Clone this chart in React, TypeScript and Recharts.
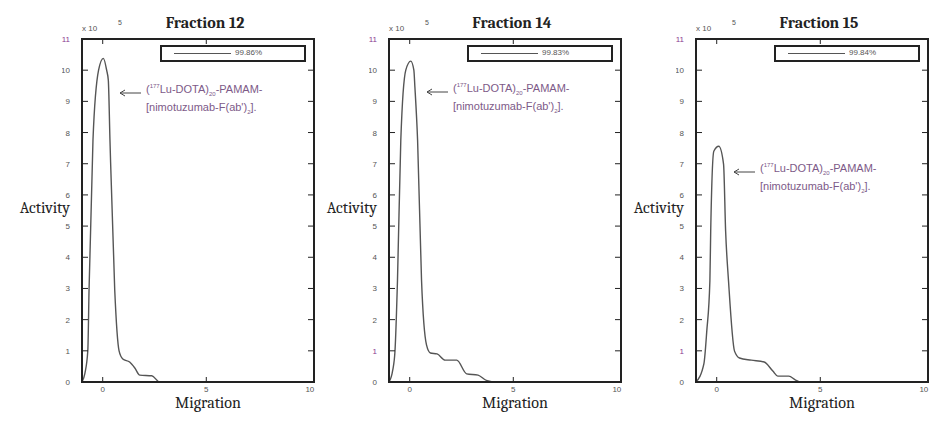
import React from 'react';
import { LineChart, Line, XAxis, YAxis, Legend, ReferenceArea, ReferenceLine } from 'recharts';

// values (Activity in units of 10^5)
const fractionTitles = ['Fraction 12', 'Fraction 14', 'Fraction 15'];
const purityLabels = ['99.86%', '99.83%', '99.84%'];
const migrationTicks = [0, 5, 10];
const activityTicks = [0, 1, 2, 3, 4, 5, 6, 7, 8, 9, 10, 11];

const f12Migration = [-1, -0.86, -0.72, -0.66, -0.47, -0.2, 0.03, 0.19, 0.27, 0.35, 0.58, 0.79, 0.97, 1.3, 1.55, 1.79, 2.37, 2.75, 10.2];
const f12Activity = [0, 0.28, 1.0, 2.95, 7.76, 10.0, 10.38, 10.0, 9.68, 7.76, 2.95, 1.0, 0.74, 0.64, 0.45, 0.22, 0.2, 0, 0];

const f14Migration = [-1, -0.82, -0.71, -0.59, -0.43, -0.19, 0.05, 0.2, 0.25, 0.38, 0.57, 0.81, 1.0, 1.32, 1.71, 2.27, 2.75, 3.3, 3.7, 4.2, 10.2];
const f14Activity = [0, 0.38, 1.0, 3.27, 7.76, 10.0, 10.29, 10.0, 9.46, 7.76, 3.27, 1.19, 0.93, 0.9, 0.7, 0.7, 0.26, 0.22, 0.05, 0, 0];

const f15Migration = [-1, -0.62, -0.48, -0.33, -0.29, -0.14, 0.1, 0.33, 0.43, 0.57, 0.86, 1.1, 1.67, 2.29, 2.71, 2.95, 3.48, 3.81, 4.05, 10.2];
const f15Activity = [0, 0.58, 1.63, 3.24, 4.84, 7.4, 7.56, 6.99, 4.84, 3.24, 0.99, 0.77, 0.7, 0.64, 0.35, 0.19, 0.19, 0.06, 0, 0];

const migrations = [f12Migration, f14Migration, f15Migration];
const activities = [f12Activity, f14Activity, f15Activity];

// layout
const PLOT_LEFTS = [82, 389, 696];
const ARROW_TOPS = [93, 92, 172];
const PW = 232;
const PH = 343;
const TOP = 39;
const AXIS_W = 14;
const Y_GAP = 12;
const X_GAP = 3;
const CHART_W = 258;
const H = 432;
const DARK = '#222';
const TICK_COLOR = '#555';
const PURPLE = '#8a3a8f';

const tickFont = { fontFamily: 'Liberation Sans, Arial, sans-serif', fontSize: 8 };

const YTick = (props: any) => {
  const { x, y, payload, purpleOne } = props;
  const v = payload.value;
  const px = x + Y_GAP;
  const purple = v === 11 || (purpleOne && v === 1);
  return (
    <g>
      {v > 0 && v < 11 ? (
        <g>
          <line x1={px} x2={px + 6} y1={y} y2={y} stroke={DARK} strokeWidth={1} />
          <line x1={px + PW - 6} x2={px + PW} y1={y} y2={y} stroke={DARK} strokeWidth={1} />
        </g>
      ) : null}
      <text x={x} y={y} dy={3} textAnchor="end" fill={purple ? PURPLE : TICK_COLOR} fontSize={8} fontFamily={tickFont.fontFamily}>
        {v}
      </text>
    </g>
  );
};

const XTick = (props: any) => {
  const { x, y, payload } = props;
  const v = payload.value;
  const bottom = y - X_GAP;
  return (
    <g>
      {v < 10 ? (
        <g>
          <line x1={x} x2={x} y1={bottom} y2={bottom - 5} stroke={DARK} strokeWidth={1} />
          <line x1={x} x2={x} y1={bottom - PH} y2={bottom - PH + 5} stroke={DARK} strokeWidth={1} />
        </g>
      ) : null}
      <text x={x} y={y} dy={7} textAnchor="middle" fill={TICK_COLOR} fontSize={8} fontFamily={tickFont.fontFamily}>
        {v}
      </text>
    </g>
  );
};

const LegendBox = (props: any) => {
  const item = props.payload && props.payload[0];
  return (
    <div
      style={{
        boxSizing: 'border-box',
        width: 146,
        height: 17,
        border: `2px solid ${DARK}`,
        position: 'relative',
      }}
    >
      <svg width={70} height={13} style={{ position: 'absolute', left: 10, top: 0 }}>
        <line x1={2} x2={59} y1={6.5} y2={6.5} stroke="#555" strokeWidth={1.2} />
      </svg>
      <span style={{ position: 'absolute', left: 73, top: 1, ...tickFont, color: TICK_COLOR }}>
        {item ? item.value : ''}
      </span>
    </div>
  );
};

const serif = 'Cambria, "Liberation Serif", "DejaVu Serif", serif';

export default function App() {
  return (
    <div style={{ position: 'absolute', left: 0, top: 0, width: 949, height: H, background: '#fff', overflow: 'hidden' }}>
      {fractionTitles.map((title, i) => {
        const data = migrations[i].map((m, j) => ({ migration: m, activity: activities[i][j] }));
        const left = PLOT_LEFTS[i];
        return (
          <div key={title}>
            <div
              style={{
                position: 'absolute',
                left: left + 123 - 60,
                width: 120,
                top: 14,
                textAlign: 'center',
                fontFamily: serif,
                fontWeight: 'bold',
                fontSize: 16,
                color: DARK,
              }}
            >
              {title}
            </div>
            <div style={{ position: 'absolute', left: left, top: 24, ...tickFont, color: TICK_COLOR }}>x 10</div>
            <div style={{ position: 'absolute', left: left + 36, top: 19, fontFamily: tickFont.fontFamily, fontSize: 7, color: TICK_COLOR }}>5</div>
            <div
              style={{
                position: 'absolute',
                left: left - 12 - 70,
                width: 70,
                top: 199,
                textAlign: 'right',
                fontFamily: serif,
                fontSize: 16,
                color: DARK,
              }}
            >
              Activity
            </div>
            <div
              style={{
                position: 'absolute',
                left: left + 126 - 50,
                width: 100,
                top: 395,
                lineHeight: '16px',
                textAlign: 'center',
                fontFamily: serif,
                fontSize: 16,
                color: DARK,
              }}
            >
              Migration
            </div>
            <svg width={24} height={10} style={{ position: 'absolute', left: left + 37, top: ARROW_TOPS[i] - 5 }}>
              <line x1={1} x2={22} y1={5} y2={5} stroke="#444" strokeWidth={1} />
              <polyline points="6,2 1,5 6,8" fill="none" stroke="#444" strokeWidth={1} />
            </svg>
            <div
              style={{
                position: 'absolute',
                left: left + 64,
                top: ARROW_TOPS[i] - 13,
                fontFamily: 'Liberation Sans, Arial, sans-serif',
                fontSize: 11,
                lineHeight: '13px',
                color: '#7d5a88',
                whiteSpace: 'nowrap',
              }}
            >
              <div>
                (<sup style={{ fontSize: 6 }}>177</sup>Lu-DOTA)<sub style={{ fontSize: 6 }}>20</sub>-PAMAM-
              </div>
              <div>
                [nimotuzumab-F(ab')<sub style={{ fontSize: 6 }}>2</sub>].
              </div>
            </div>

            <div style={{ position: 'absolute', left: left - AXIS_W - 6, top: 0 }}>
              <LineChart
                width={CHART_W}
                height={H}
                data={data}
                margin={{ top: TOP, right: 6, bottom: 30, left: 6 }}
              >
                <XAxis
                  dataKey="migration"
                  type="number"
                  domain={[-1, 10.2]}
                  ticks={migrationTicks}
                  height={20}
                  tickSize={0}
                  tickMargin={X_GAP}
                  tickLine={false}
                  axisLine={{ stroke: DARK, strokeWidth: 2 }}
                  tick={(p: any) => <XTick {...p} />}
                />
                <YAxis
                  type="number"
                  domain={[0, 11]}
                  ticks={activityTicks}
                  width={AXIS_W}
                  tickSize={0}
                  tickMargin={Y_GAP}
                  tickLine={false}
                  axisLine={{ stroke: DARK, strokeWidth: 2 }}
                  interval={0}
                  tick={(p: any) => <YTick {...p} purpleOne={i > 0} />}
                />
                <ReferenceArea
                  x1={-1}
                  x2={10.2}
                  y1={0}
                  y2={11}
                  fill="none"
                  stroke={DARK}
                  strokeWidth={2}
                  ifOverflow="visible"
                />
                <ReferenceLine x={-1} stroke={DARK} strokeWidth={2} ifOverflow="visible" />
                <ReferenceLine y={0} stroke={DARK} strokeWidth={2} ifOverflow="visible" />
                <Legend
                  verticalAlign="middle"
                  layout="horizontal"
                  content={(p: any) => <LegendBox {...p} />}
                  wrapperStyle={{ position: 'absolute', left: AXIS_W + 6 + 78, top: 45, width: 146, height: 17 }}
                />
                <Line
                  type="monotone"
                  dataKey="activity"
                  name={purityLabels[i]}
                  stroke="#555"
                  strokeWidth={1.4}
                  dot={false}
                  isAnimationActive={false}
                />
              </LineChart>
            </div>
          </div>
        );
      })}
    </div>
  );
}
